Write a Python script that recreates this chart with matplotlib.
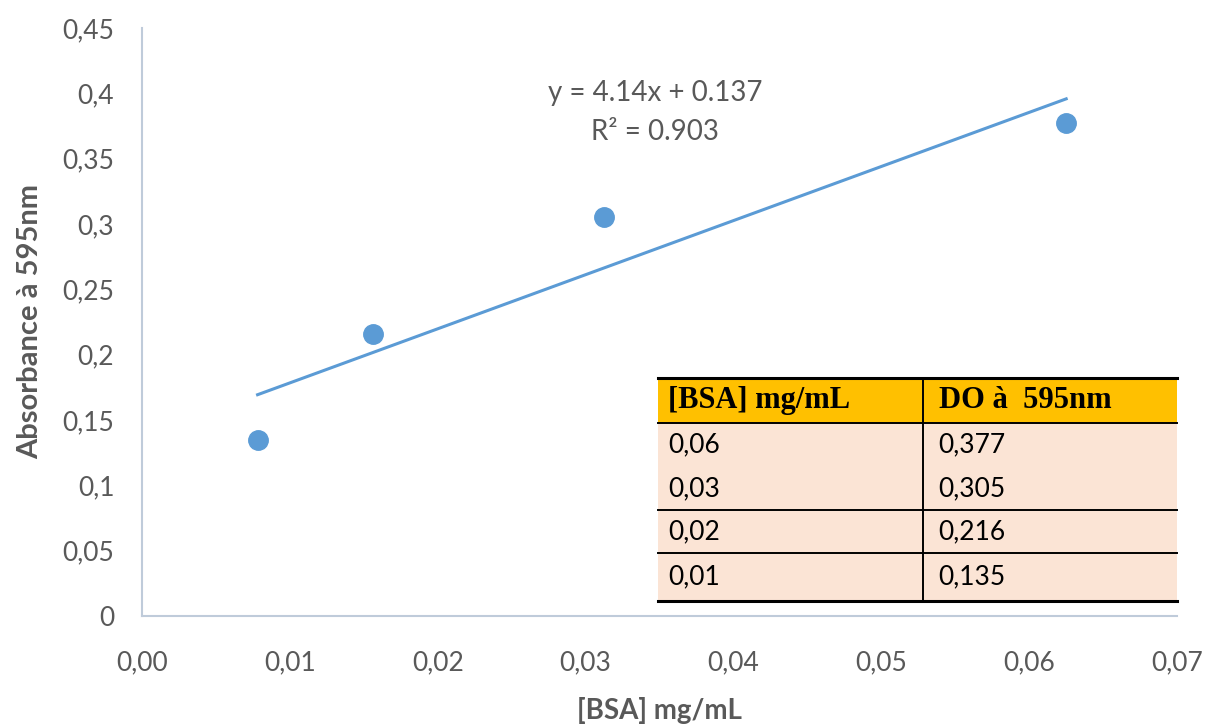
import numpy as np
import matplotlib.pyplot as plt
from matplotlib.patches import Rectangle

# BSA standard curve (Bradford, 595 nm)
conc = [0.0078125, 0.015625, 0.03125, 0.0625]
absorb = [0.135, 0.216, 0.305, 0.377]
slope, intercept, r2 = 4.14, 0.137, 0.903

x_ticks = [0.00, 0.01, 0.02, 0.03, 0.04, 0.05, 0.06, 0.07]
y_ticks = [0, 0.05, 0.1, 0.15, 0.2, 0.25, 0.3, 0.35, 0.4, 0.45]

tab_header = ['[BSA] mg/mL', 'DO à  595nm']
tab_conc = ['0,06', '0,03', '0,02', '0,01']
tab_do = ['0,377', '0,305', '0,216', '0,135']

blue = '#5B9BD5'
grey = '#595959'
axis_col = '#BFCBDA'
sans = 'Lato'

fig = plt.figure(figsize=(12.11, 7.26), dpi=100)
ax = fig.add_axes([0.1173, 0.1515, 0.8547, 0.81])

xf = np.array([conc[0], conc[-1]])
ax.plot(xf, slope * xf + intercept, color=blue, lw=2.2, zorder=2)
ax.plot(conc, absorb, 'o', color=blue, ms=14, zorder=3)

ax.set_xlim(0, 0.07)
ax.set_ylim(0, 0.45)
ax.set_xticks(x_ticks)
ax.set_xticklabels([f'{v:.2f}'.replace('.', ',') for v in x_ticks])
ax.set_yticks(y_ticks)
ax.set_yticklabels([('%g' % v).replace('.', ',') for v in y_ticks])
ax.tick_params(length=0, labelsize=19, labelcolor=grey)
ax.tick_params(axis='x', pad=25)
ax.tick_params(axis='y', pad=20)
for lab in ax.get_xticklabels() + ax.get_yticklabels():
    lab.set_family(sans)
for s in ['top', 'right']:
    ax.spines[s].set_visible(False)
for s in ['left', 'bottom']:
    ax.spines[s].set_color(axis_col)
    ax.spines[s].set_linewidth(1.5)

ax.set_xlabel('[BSA] mg/mL', fontsize=20, fontweight='bold', color=grey,
              family=sans, labelpad=15)
ax.set_ylabel('Absorbance à 595nm', fontsize=21, fontweight='bold', color=grey,
              family=sans, labelpad=14)

ax.text(0.0347, 0.4005, f'y = {slope}x + {intercept}', ha='center',
        va='center', fontsize=20, color=grey, family=sans)
ax.text(0.0347, 0.370, f'R² = {r2}', ha='center',
        va='center', fontsize=20, color=grey, family=sans)

# inset table drawn in axes fraction
def fy(py):
    return (616 - py) / 588

x0, xm, x1 = 0.4986, 0.7546, 1.0
rows = [378, 423, 467, 510, 553, 601]
T = ax.transAxes
ax.add_patch(Rectangle((x0, fy(rows[1])), x1 - x0, fy(rows[0]) - fy(rows[1]),
                       transform=T, facecolor='#FFC000', edgecolor='none', zorder=4))
ax.add_patch(Rectangle((x0, fy(rows[-1])), x1 - x0, fy(rows[1]) - fy(rows[-1]),
                       transform=T, facecolor='#FBE4D5', edgecolor='none', zorder=4))
for i, py in enumerate(rows):
    if i == 2:
        continue
    lw = 2.2 if i in (0, len(rows) - 1) else 1.4
    ax.plot([x0, x1], [fy(py)] * 2, color='black', lw=lw, transform=T, zorder=5,
            clip_on=False)
ax.plot([xm, xm], [fy(rows[0]), fy(rows[-1])], color='black', lw=1.4, transform=T,
        zorder=5, clip_on=False)

ty = fy((rows[0] + rows[1]) / 2)
ax.text(x0 + 0.01, ty, tab_header[0], transform=T, fontsize=22, fontweight='bold',
        family='Liberation Serif', va='center', zorder=6)
ax.text(xm + 0.015, ty, tab_header[1], transform=T, fontsize=22, fontweight='bold',
        family='Liberation Serif', va='center', zorder=6)
for i, (c, d) in enumerate(zip(tab_conc, tab_do)):
    yy = fy((rows[i + 1] + rows[i + 2]) / 2)
    ax.text(x0 + 0.01, yy, c, transform=T, fontsize=19, family=sans,
            va='center', zorder=6)
    ax.text(xm + 0.015, yy, d, transform=T, fontsize=19, family=sans,
            va='center', zorder=6)

fig.savefig('out.png', dpi=100)
